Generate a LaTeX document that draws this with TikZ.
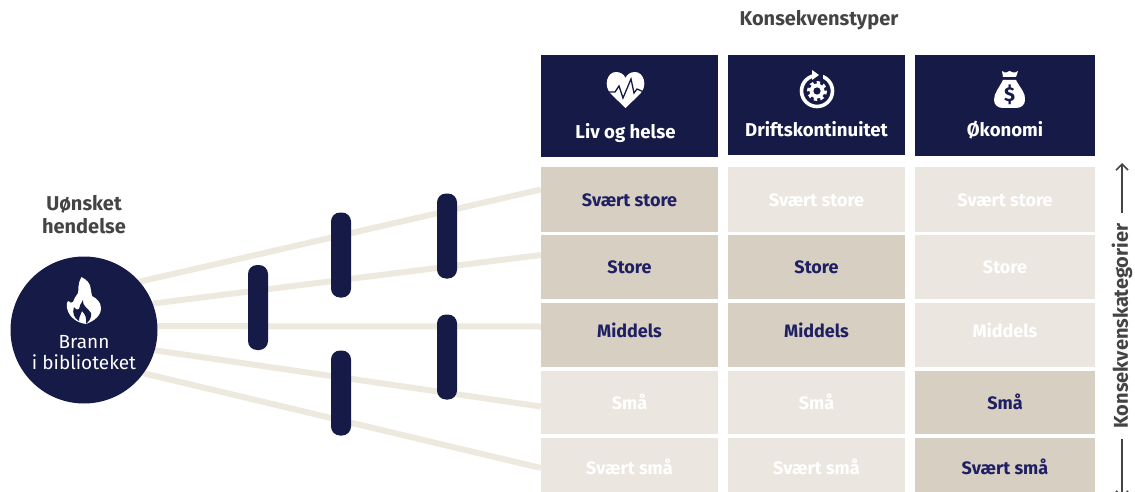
\documentclass[tikz,border=0pt]{standalone}
\usepackage{fontspec}
\setmainfont{Fira Sans}
\usetikzlibrary{backgrounds, arrows.meta}
\definecolor{navy}{HTML}{161A46}
\definecolor{navytext}{HTML}{1F1F63}
\definecolor{darkbeige}{HTML}{D7CFC2}
\definecolor{lightbeige}{HTML}{EBE7E0}
\definecolor{linebeige}{HTML}{EDE9DF}
\definecolor{greytext}{HTML}{444444}
\tikzset{
  head/.style={fill=navy, text=white, font=\fontsize{18.6}{18.6}\selectfont\bfseries, inner sep=0pt, anchor=north, minimum height=102pt, text height=83pt, text depth=19pt},
  cell/.style={inner sep=0pt, font=\fontsize{18}{18}\selectfont\bfseries, text height=14pt, text depth=1pt},
  active/.style={cell, fill=darkbeige, text=navytext},
  faded/.style={cell, fill=lightbeige, text=white},
  barrier/.style={fill=navy, rounded corners=9pt, minimum width=20pt, minimum height=85pt, inner sep=0pt},
  path/.style={draw=linebeige, line width=6pt},
  title/.style={text=greytext, font=\fontsize{20}{23}\selectfont\bfseries, align=center, inner sep=0pt},
  katarrow/.style={-{Straight Barb[length=6pt,width=12pt]}, greytext, line width=1.6pt, shorten <=10pt},
}
\begin{document}
\begin{tikzpicture}[x=1pt, y=-1pt]
\useasboundingbox (0,0) rectangle (1135,492);
\node[title] (typer) at (819, 20) {Konsekvenstyper};
\node[title] (uonsket) at (84, 214.5) {Uønsket\\hendelse};
\node[title, rotate=90] (kat) at (1122, 326) {Konsekvenskategorier};
\coordinate (kattop) at (1122, 163);
\coordinate (katbottom) at (1122, 498);
\draw[katarrow] (kat.east) -- (kattop);
\draw[katarrow] (kat.west) -- (katbottom);
% headers
\node[head, minimum width=177pt] (liv) at (629.5, 55) {Liv og helse\kern8pt};
\node[head, minimum width=177pt, minimum height=100pt, text height=81pt] (drift) at (816.5, 55) {Driftskontinuitet};
\node[head, minimum width=180pt, minimum height=101pt, text height=81pt, text depth=20pt] (okonomi) at (1005, 55) {Økonomi};
% first column
\node[active, minimum width=177pt, minimum height=65pt] (a1) at (629.5, 199.5) {Svært store};
\node[active, minimum width=177pt, minimum height=64pt] (a2) at (629.5, 267) {Store};
\node[active, minimum width=177pt, minimum height=64pt, text depth=9pt] (a3) at (629.5, 335) {Middels};
\node[faded, minimum width=177pt, minimum height=63pt] (a4) at (629.5, 402.5) {Små};
\node[faded, minimum width=177pt, minimum height=60pt] (a5) at (629.5, 468) {Svært små};
% second column
\node[faded, minimum width=177pt, minimum height=65pt] (b1) at (816.5, 199.5) {Svært store};
\node[active, minimum width=177pt, minimum height=64pt] (b2) at (816.5, 267) {Store};
\node[active, minimum width=177pt, minimum height=64pt, text depth=9pt] (b3) at (816.5, 335) {Middels};
\node[faded, minimum width=177pt, minimum height=63pt] (b4) at (816.5, 402.5) {Små};
\node[faded, minimum width=177pt, minimum height=60pt] (b5) at (816.5, 468) {Svært små};
% third column
\node[faded, minimum width=180pt, minimum height=65pt] (c1) at (1005, 199.5) {Svært store};
\node[faded, minimum width=180pt, minimum height=64pt] (c2) at (1005, 267) {Store};
\node[faded, minimum width=180pt, minimum height=64pt, text depth=9pt] (c3) at (1005, 335) {Middels};
\node[active, minimum width=180pt, minimum height=63pt] (c4) at (1005, 402.5) {Små};
\node[active, minimum width=180pt, minimum height=60pt] (c5) at (1005, 468) {Svært små};
% event
\node[circle, fill=navy, minimum size=147pt, inner sep=0pt] (brann) at (84, 330) {};
\node[text=white, font=\fontsize{19}{21}\selectfont, align=center, inner sep=0pt] (brannlabel) at (84, 353) {Brann\\i biblioteket};
\begin{scope}[on background layer]
\draw[path] (brann.41) -- ([yshift=10pt]a1.west);
\draw[path] (brann.21) -- ([yshift=12pt]a2.west);
\draw[path] (brann.3) -- ([yshift=8.5pt]a3.west);
\draw[path] (brann.-16) -- ([yshift=-4pt]a4.west);
\draw[path] (brann.-36) -- (a5.west);
\end{scope}
% barriers
\node[barrier] (b258) at (258, 307.5) {};
\node[barrier] (b341top) at (341, 255) {};
\node[barrier] (b447top) at (447, 236) {};
\node[barrier] (b447low) at (447, 357) {};
\node[barrier] (b341low) at (341, 393) {};
% flame
\fill[white] (81.5,277) .. controls (93,283) and (90,290) .. (92,296) .. controls (96,298) and (101,302) .. (101,308) .. controls (101,316) and (94,321) .. (86,324) .. controls (78,323) and (69,318) .. (67,308) .. controls (66,305) and (67,302) .. (68,301) .. controls (70,303) and (72,303) .. (73,302) .. controls (75,297) and (76,296) .. (78,293) .. controls (79,290) and (77,285) .. (81.5,277) -- cycle;
\fill[navy] (83,300) .. controls (82,306) and (88,308) .. (91,313) .. controls (92,318) and (89,321) .. (86,324) .. controls (87,318) and (85,314) .. (82,311) .. controls (81,315) and (79,316) .. (79,321) .. controls (74,318) and (72,313) .. (74,307) .. controls (76,310) and (78,310) .. (79,309) .. controls (79,306) and (81,304) .. (83,300) -- cycle;
% heart
\fill[white] (625.5,108) -- (611,94) .. controls (603,86) and (607,72) .. (616,72) .. controls (620,72) and (624,74) .. (625.5,78) .. controls (627,74) and (631,72) .. (635,72) .. controls (644,72) and (648,86) .. (640,94) -- cycle;
\draw[navy, line width=1.3pt] (608,92) -- (615,92) -- (619,86) -- (623,98) -- (631,79) -- (634,93) -- (637,89) -- (644,92);
% gear
\draw[white, line width=3.6pt] (817,91) circle (15.5);
\fill[navy] (812,70) rectangle (823,80);
\fill[white] (812,70) -- (819,75) -- (812,80) -- cycle;
\fill[white] (817,91) circle (7.5);
\draw[white, line width=3pt, dash pattern=on 3.3pt off 3.3pt] (817,91) circle (8.5);
\fill[navy] (817,91) circle (3.6);
% money bag
\fill[white] (1002,71) .. controls (1006,74) and (1007,72) .. (1009.5,71) .. controls (1012,72) and (1014,74) .. (1018,71) -- (1016,77) -- (1003,77) -- cycle;
\fill[white] (1003,80) -- (1016,80) .. controls (1020,88) and (1026,93) .. (1025,100) .. controls (1025,105) and (1021,108) .. (1016,108) -- (1003,108) .. controls (998,108) and (994,105) .. (994,100) .. controls (994,93) and (999,88) .. (1003,80) -- cycle;
\node[text=navy, font=\fontsize{20}{20}\selectfont\bfseries, inner sep=0pt] (dollar) at (1009.5, 95) {\$};
\end{tikzpicture}
\end{document}
